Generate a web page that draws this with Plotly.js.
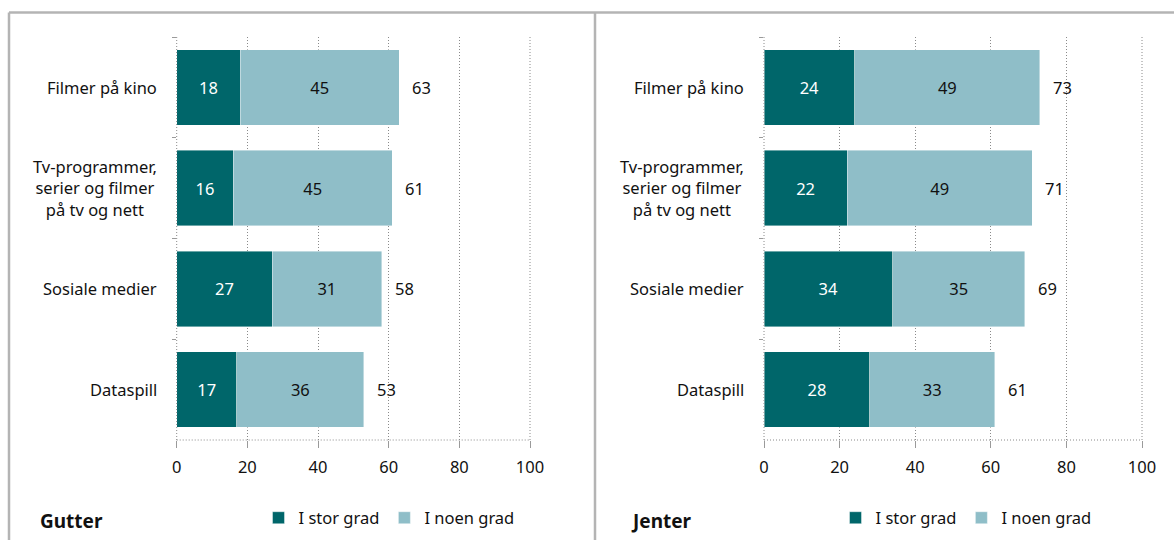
<!DOCTYPE html>
<html>
<head>
<meta charset="utf-8">
<script src="https://cdn.plot.ly/plotly-3.0.1.min.js"></script>
<style>html,body{margin:0;padding:0;background:#fff;}#chart{width:1174px;height:540px;}</style>
</head>
<body>
<div id="chart"></div>
<script>
const categories = ['Filmer på kino', 'Tv-programmer,<br>serier og filmer<br>på tv og nett', 'Sosiale medier', 'Dataspill'];
const seriesNames = ['I stor grad', 'I noen grad'];
const gutterStor = [18, 16, 27, 17];
const gutterNoen = [45, 45, 31, 36];
const gutterTotal = [63, 61, 58, 53];
const jenterStor = [24, 22, 34, 28];
const jenterNoen = [49, 49, 35, 33];
const jenterTotal = [73, 71, 69, 61];
const panelTitles = ['Gutter', 'Jenter'];
const xTicks = [0, 20, 40, 60, 80, 100];

const W = 1174, H = 540;
const px = v => v / W;
const py = v => 1 - v / H;
const FONT = '"Noto Sans", "Open Sans", sans-serif';
const FS = 16.5;
const DARK = '#00666a', LIGHT = '#8fbec8';
const GRID = '#8a8a8a';
const DOT = '1px,2px';

function barTrace(vals, name, color, textColor, xa, ya, legend) {
  return {
    type: 'bar', orientation: 'h', x: vals, y: categories, name: name,
    xaxis: xa, yaxis: ya, legend: legend, showlegend: true,
    marker: {color: color, line: {color: 'rgba(255,255,255,0.7)', width: 0.6}},
    text: vals.map(String), textposition: 'inside', insidetextanchor: 'middle',
    textangle: 0, constraintext: 'none',
    insidetextfont: {family: FONT, size: FS, color: textColor},
    hoverinfo: 'skip'
  };
}

const data = [
  barTrace(gutterStor, seriesNames[0], DARK, '#ffffff', 'x', 'y', 'legend'),
  barTrace(gutterNoen, seriesNames[1], LIGHT, '#111111', 'x', 'y', 'legend'),
  barTrace(jenterStor, seriesNames[0], DARK, '#ffffff', 'x2', 'y2', 'legend2'),
  barTrace(jenterNoen, seriesNames[1], LIGHT, '#111111', 'x2', 'y2', 'legend2')
];

function xAxis(d0, d1, anchor) {
  return {
    domain: [px(d0), px(d1)], range: [0, 100], anchor: anchor,
    tickvals: xTicks, ticktext: xTicks.map(String),
    showgrid: true, gridcolor: GRID, griddash: DOT, gridwidth: 1,
    zeroline: false, showline: false,
    ticks: 'outside', ticklen: 7, tickcolor: '#9a9a9a', tickwidth: 1,
    ticklabelstandoff: 5,
    tickfont: {family: FONT, size: FS, color: '#111'}, fixedrange: true
  };
}
function yAxis(anchor) {
  return {
    domain: [py(440), py(37)], type: 'category', autorange: 'reversed', anchor: anchor,
    showgrid: false, zeroline: false, showline: false,
    ticks: 'outside', tickson: 'boundaries', ticklen: 4, tickcolor: '#9a9a9a',
    showticklabels: false, fixedrange: true
  };
}

const annotations = [];
function addPanelAnnotations(totals, xa, ya) {
  categories.forEach((c, i) => {
    annotations.push({x: 0, y: c, xref: xa, yref: ya, xanchor: 'right', xshift: -18,
      text: c, align: 'center', showarrow: false,
      font: {family: FONT, size: FS, color: '#111'}});
    annotations.push({x: totals[i], y: c, xref: xa, yref: ya, xanchor: 'left', xshift: 11,
      text: String(totals[i]), showarrow: false,
      font: {family: FONT, size: FS, color: '#111'}});
  });
}
addPanelAnnotations(gutterTotal, 'x', 'y');
addPanelAnnotations(jenterTotal, 'x2', 'y2');
annotations.push({xref: 'paper', yref: 'paper', x: px(38), y: py(521), xanchor: 'left', yanchor: 'middle',
  text: '<b>' + panelTitles[0] + '</b>', showarrow: false, font: {family: FONT, size: 19, color: '#111'}});
annotations.push({xref: 'paper', yref: 'paper', x: px(629), y: py(521), xanchor: 'left', yanchor: 'middle',
  text: '<b>' + panelTitles[1] + '</b>', showarrow: false, font: {family: FONT, size: 19, color: '#111'}});

const border = {color: '#b4b4b4', width: 2.5};
const dotLine = {color: GRID, width: 1, dash: DOT};
const shapes = [];
['x', 'x2'].forEach((xa, k) => {
  const ya = k === 0 ? 'y' : 'y2';
  shapes.push({type: 'line', xref: xa + ' domain', yref: ya + ' domain', x0: 0, x1: 1, y0: 0, y1: 0, line: dotLine});
  shapes.push({type: 'line', xref: xa + ' domain', yref: ya + ' domain', x0: 0, x1: 0, y0: 0, y1: 1, line: dotLine});
  shapes.push({type: 'line', xref: xa + ' domain', yref: ya + ' domain', x0: 1, x1: 1, y0: 0, y1: 1, line: dotLine});
});
shapes.push({type: 'line', xref: 'paper', yref: 'paper', x0: px(9), x1: px(W + 5), y0: py(12.5), y1: py(12.5), line: border});
shapes.push({type: 'line', xref: 'paper', yref: 'paper', x0: px(9), x1: px(9), y0: py(12.5), y1: py(H + 5), line: border});
shapes.push({type: 'line', xref: 'paper', yref: 'paper', x0: px(595), x1: px(595), y0: py(12.5), y1: py(H + 5), line: border});

const legendCommon = {orientation: 'h', xanchor: 'center', yanchor: 'middle', y: py(518),
  font: {family: FONT, size: FS, color: '#111'}, bgcolor: 'rgba(0,0,0,0)',
  traceorder: 'normal', itemwidth: 30, itemclick: false, itemdoubleclick: false};

const layout = {
  width: W, height: H, margin: {l: 0, r: 0, t: 0, b: 0},
  paper_bgcolor: '#ffffff', plot_bgcolor: 'rgba(0,0,0,0)',
  barmode: 'stack', bargap: 0.25,
  font: {family: FONT, size: FS, color: '#111'},
  xaxis: xAxis(176.7, 530, 'y'), yaxis: yAxis('x'),
  xaxis2: xAxis(764, 1142, 'y2'), yaxis2: yAxis('x2'),
  legend: Object.assign({}, legendCommon, {x: px(389)}),
  legend2: Object.assign({}, legendCommon, {x: px(966)}),
  annotations: annotations, shapes: shapes
};

Plotly.newPlot('chart', data, layout, {staticPlot: true, displayModeBar: false});
</script>
</body>
</html>
